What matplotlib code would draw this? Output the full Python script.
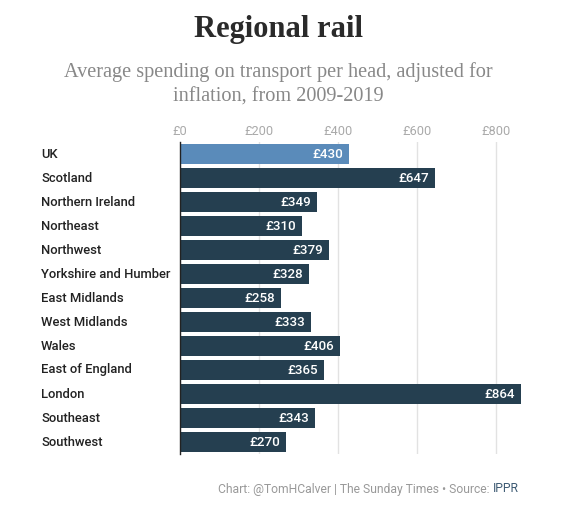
import matplotlib
matplotlib.use("Agg")
import matplotlib.pyplot as plt
from matplotlib.ticker import FuncFormatter

regions = ["UK", "Scotland", "Northern Ireland", "Northeast", "Northwest",
           "Yorkshire and Humber", "East Midlands", "West Midlands", "Wales",
           "East of England", "London", "Southeast", "Southwest"]
spending = [430, 647, 349, 310, 379, 328, 258, 333, 406, 365, 864, 343, 270]
ticks = [0, 200, 400, 600, 800]

W, H = 574, 512
fig = plt.figure(figsize=(W / 100, H / 100), dpi=100)
ax = fig.add_axes([179.5 / W, 1 - 454 / H, 341.5 / W, 312 / H])

colors = ["#5a8bba" if r == "UK" else "#253f50" for r in regions]
y = list(range(len(regions)))
ax.barh(y, spending, height=0.8, color=colors, zorder=2)
ax.set_ylim(len(regions) - 0.5, -0.5)
ax.set_xlim(0, 864)

ax.set_xticks(ticks)
ax.xaxis.set_major_formatter(FuncFormatter(lambda v, p: f"£{v:.0f}"))
ax.xaxis.tick_top()
ax.tick_params(axis="x", length=0, pad=3, labelsize=9.2, labelcolor="#aaaaaa")
for lab in ax.get_xticklabels():
    lab.set_fontfamily("Roboto")
ax.set_yticks([])
ax.grid(axis="x", color="#e2e2e2", linewidth=1, zorder=0)
for s in ["top", "right", "bottom"]:
    ax.spines[s].set_visible(False)
ax.spines["left"].set_color("#222222")
ax.spines["left"].set_linewidth(1)
ax.spines["left"].set_zorder(3)

for i, (r, v) in enumerate(zip(regions, spending)):
    ax.text(v - 6 * 864 / 341.5, i, f"£{v}", ha="right", va="center",
            color="white", fontsize=9.6, fontfamily="Roboto", fontweight="medium", zorder=4)
    fig.text(41 / W, 1 - (154 + 24 * i) / H, r, ha="left", va="center",
             fontsize=9.4, fontfamily="Roboto", fontweight="medium", color="#222222")

fig.text(278 / W, 1 - 30 / H, "Regional rail", ha="center", va="center",
         fontsize=22, fontfamily="Liberation Serif", fontweight="bold", color="#2a2a2a")
fig.text(278 / W, 1 - 84 / H, "Average spending on transport per head, adjusted for\ninflation, from 2009-2019",
         ha="center", va="center", fontsize=14.6, fontfamily="Liberation Serif",
         color="#888888", linespacing=1.4)

src = fig.text(519 / W, 1 - 489 / H, "IPPR", ha="right", va="center",
               fontsize=8.7, fontfamily="Roboto", color="#3d5a73")
fig.canvas.draw()
bb = src.get_window_extent()
fig.text(bb.x0 / W, 1 - 489 / H, "Chart: @TomHCalver | The Sunday Times \u2022 Source: ",
         ha="right", va="center", fontsize=8.7, fontfamily="Roboto", color="#999999")

fig.savefig("out.png", dpi=100)
